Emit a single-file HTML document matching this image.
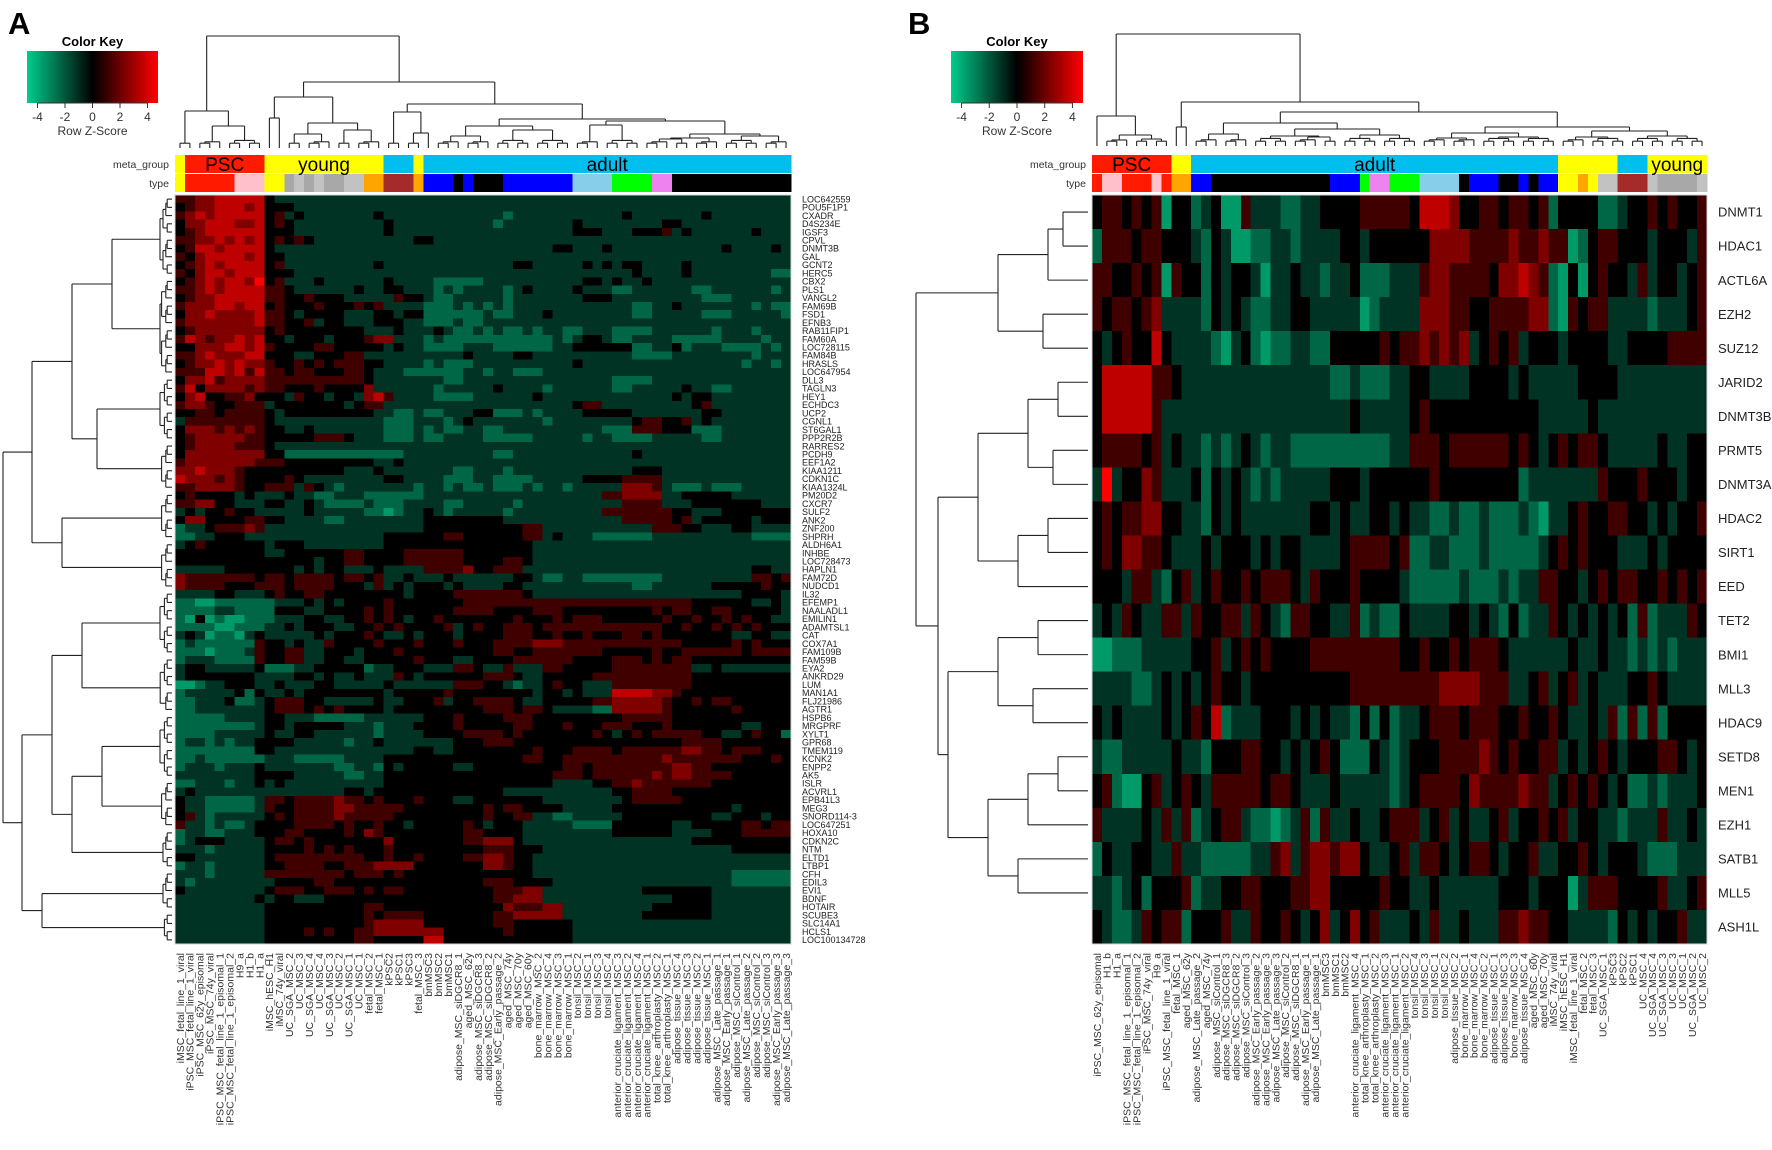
<!DOCTYPE html>
<html><head><meta charset="utf-8"><title>Heatmaps A and B</title>
<style>
html,body{margin:0;padding:0;background:#fff;}
svg{display:block;font-family:"Liberation Sans",Arial,sans-serif;}
</style></head>
<body>
<svg id="fig" width="1772" height="1150" viewBox="0 0 1772 1150" xmlns="http://www.w3.org/2000/svg">
<defs>
<linearGradient id="keygrad" x1="0" x2="1" y1="0" y2="0">
<stop offset="0" stop-color="rgb(0,205,140)"/><stop offset="0.5" stop-color="#000"/><stop offset="1" stop-color="rgb(255,0,0)"/>
</linearGradient>
</defs>
<text x="8" y="34" font-size="31" font-weight="bold">A</text>
<text x="908" y="34" font-size="31" font-weight="bold">B</text>
<g id="gA"></g>
<g id="gB"></g>
</svg>
<script>
// ---------- Panel A data ----------
const colNamesA = ["iMSC_fetal_line_1_viral","iPSC_MSC_fetal_line_1_viral","iPSC_MSC_62y_episomal","iPSC_MSC_74y_viral","iPSC_MSC_fetal_line_1_episomal_1","iPSC_MSC_fetal_line_1_episomal_2","H9_a","H1_b","H1_a","iMSC_hESC_H1","iMSC_74y_viral","UC_SGA_MSC_2","UC_MSC_3","UC_SGA_MSC_4","UC_MSC_4","UC_SGA_MSC_3","UC_MSC_2","UC_SGA_MSC_1","UC_MSC_1","fetal_MSC_2","fetal_MSC_1","kPSC2","kPSC1","kPSC3","fetal_MSC_3","bmMSC3","bmMSC2","bmMSC1","adipose_MSC_siDGCR8_1","aged_MSC_62y","adipose_MSC_siDGCR8_3","adipose_MSC_siDGCR8_2","adipose_MSC_Early_passage_2","aged_MSC_74y","aged_MSC_70y","aged_MSC_60y","bone_marrow_MSC_2","bone_marrow_MSC_4","bone_marrow_MSC_3","bone_marrow_MSC_1","tonsil_MSC_2","tonsil_MSC_1","tonsil_MSC_3","tonsil_MSC_4","anterior_cruciate_ligament_MSC_3","anterior_cruciate_ligament_MSC_2","anterior_cruciate_ligament_MSC_4","anterior_cruciate_ligament_MSC_1","total_knee_arthroplasty_MSC_2","total_knee_arthroplasty_MSC_1","adipose_tissue_MSC_4","adipose_tissue_MSC_3","adipose_tissue_MSC_2","adipose_tissue_MSC_1","adipose_MSC_Late_passage_1","adipose_MSC_Early_passage_1","adipose_MSC_siControl_1","adipose_MSC_Late_passage_2","adipose_MSC_siControl_2","adipose_MSC_siControl_3","adipose_MSC_Early_passage_3","adipose_MSC_Late_passage_3"];
const rowNamesA = ["LOC642559","POU5F1P1","CXADR","D4S234E","IGSF3","CPVL","DNMT3B","GAL","GCNT2","HERC5","CBX2","PLS1","VANGL2","FAM69B","FSD1","EFNB3","RAB11FIP1","FAM60A","LOC728115","FAM84B","HRASLS","LOC647954","DLL3","TAGLN3","HEY1","ECHDC3","UCP2","CGNL1","ST6GAL1","PPP2R2B","RARRES2","PCDH9","EEF1A2","KIAA1211","CDKN1C","KIAA1324L","PM20D2","CXCR7","SULF2","ANK2","ZNF200","SHPRH","ALDH6A1","INHBE","LOC728473","HAPLN1","FAM72D","NUDCD1","IL32","EFEMP1","NAALADL1","EMILIN1","ADAMTSL1","CAT","COX7A1","FAM109B","FAM59B","EYA2","ANKRD29","LUM","MAN1A1","FLJ21986","AGTR1","HSPB6","MRGPRF","XYLT1","GPR68","TMEM119","KCNK2","ENPP2","AK5","ISLR","ACVRL1","EPB41L3","MEG3","SNORD114-3","LOC647251","HOXA10","CDKN2C","NTM","ELTD1","LTBP1","CFH","EDIL3","EVI1","BDNF","HOTAIR","SCUBE3","SLC14A1","HCLS1","LOC100134728"];
const metaA = "yRRRRRRRRyyyyyyyyyyyyCCCyCCCCCCCCCCCCCCCCCCCCCCCCCCCCCCCCCCCCC";
const typeA = "yRRRRRPPPyyghghgghhOOWWWOUUUKUKKKUUUUUUULLLLNNNNVVKKKKKKKKKKKK";
// z-score digits: 0..8 => -4..+4
const valuesA = [
"5 56677777 4333333333333333 33333333 3333333 3333 333333 333333333333",
"4 56677767 4443333333333333 33333333 3333333 3333 333333 333333333333",
"5 67677777 4534333333343333 33333333 2333333 3333 343333 333433333333",
"4 66777667 4543333333334333 33333332 3333333 4333 333334 433333333333",
"4 56777777 4443333333334333 33333333 3333333 4443 334445 343333334333",
"5 56676767 4545433333333334 43333333 3333333 3333 333333 333333333333",
"4 57767777 4333333333333333 33333333 3333344 3334 333333 333334333343",
"5 46777767 4433333333333333 33333333 3333333 3333 333333 333333333333",
"4 56767777 4533333333343333 33333333 3443333 3434 344333 343333333333",
"5 46776777 4443333333333333 33333333 3333333 3333 334333 343333333322",
"4 56767768 4533343333334333 32222233 3333333 3443 433433 333333333333",
"5 56767777 5543333334334433 32323333 2343333 4333 223333 332233333323",
"4 56677777 5544544433333544 32233333 2333333 3444 333333 333222333333",
"5 66677677 4544454445453333 22232323 2333333 3333 332233 433333332322",
"4 66766667 5543444433344344 22222232 2333433 3333 332233 333222333332",
"5 66666667 5544534433344433 22232233 3333333 3333 333333 333333333333",
"4 56666666 4544444444333433 34322323 2232332 2333 222233 333323332333",
"5 76566767 4434443444566333 23222222 2222232 3443 223333 222223333233",
"4 46667767 5444455444443433 22223332 2222233 4444 442233 423332222323",
"5 56766677 4443344455333333 33334333 3443333 3333 332222 333333332333",
"4 56676766 5445454555443333 23222333 3333333 4333 333333 333333323323",
"5 55776757 5545544455433322 22223323 3222333 3333 333333 333333333333",
"4 66756666 5555555555433333 33223333 3333333 3333 222233 333333333333",
"5 74666656 5544454444633333 32333334 3333233 3333 223333 343322333333",
"4 67445564 4435443443675333 32222333 3334333 3333 333333 434433333333",
"5 66544555 3444444434553333 33333333 3333333 4553 333333 334533333333",
"4 45545555 4344444444433223 22333442 2232333 3444 443333 333443333333",
"3 55555555 4333333333332223 33234333 3333233 3333 334554 453433333333",
"4 66656565 4433433333332223 23223322 3333333 3332 225554 442223333333",
"4 56666655 4444455543332223 22333322 2223333 3233 222233 333223333333",
"4 56666555 4333333333333333 33333333 3333333 3333 333333 333333333333",
"4 66666666 4422222222222233 33333332 2333333 3333 334333 333333333333",
"5 66666665 5544444444433433 33333333 3333333 3333 333333 333333333333",
"6 67666544 4444444433343333 33322333 2333333 3333 334443 333333333333",
"7 66656544 4454333333334433 33222332 2223333 3444 455553 333333333333",
"5 56666544 5553543233333332 33232232 2232332 3333 366653 222322233333",
"4 54444343 3343322333222222 33333333 3333333 3335 566663 344444333333",
"5 56644333 4433432222322233 33223333 3233333 3333 355553 334444444333",
"3 43445443 3333433333221233 43233333 2333333 3335 555555 443334444444",
"4 66444455 4433332233333333 44444444 3333333 3333 355555 453444443444",
"2 33455565 3333333333333333 44444444 4455333 3333 333355 544333443333",
"2 23344433 3333333333334444 44554444 4455343 3322 222233 333333332222",
"3 45444444 3444333333334444 44444444 4443333 3333 333333 333333333333",
"4 44444444 3344444455444455 55554444 4443333 3333 333333 333333333333",
"4 44444444 4444434455444455 55554444 5543333 3333 333333 333333333333",
"3 33334444 4443434433343333 55556445 5533333 3333 333333 333333334433",
"6 55555554 5545555455453343 33433333 3443223 3222 222223 333333335545",
"6 55554445 5545555444353434 44343333 4433333 3333 332233 333344444544",
"3 33344333 4544554444444434 44455555 5543333 3333 333333 333333344443",
"2 21122222 2333434344445444 44445555 5555555 5555 555555 554444443343",
"2 22233222 2444334444545444 44455554 4445554 4444 444454 554455444443",
"2 14121122 2333443344545434 45444444 4544454 5554 444445 445445454433",
"2 22211222 3343444334454544 44534544 5554555 5555 555554 454454545444",
"3 43122134 3333343444543343 44434444 5554454 4544 455454 444444334433",
"2 32222225 4434335444454445 44454445 5556665 5555 555555 544444545444",
"2 22122235 4455334443444544 44444445 5445555 5554 444454 455555545555",
"2 33322225 4455334433444445 44433444 4555555 4444 555454 554444444444",
"3 44333334 2223344444233444 33355433 5333554 4444 555555 553343333333",
"3 44444443 3334434334333543 44444455 5433444 4455 555555 554444444444",
"1 12334443 3433344333334333 33355544 3233454 4333 555555 554444444444",
"2 33333424 3343444444443444 44544444 4443443 4333 777766 544444444444",
"2 23334223 4555443333343344 45344555 5433444 4455 666665 445455444444",
"2 23333333 4555454544443444 44444455 5455433 3322 666665 444444544444",
"2 22223333 4433322222333333 44454444 5554444 4444 455555 444444444444",
"2 22222223 4434444433323334 44454444 4554445 4445 554445 444444433444",
"2 22233333 4334433333323333 44445555 4544444 4454 345455 555443345442",
"2 33232334 4443333323343333 33344455 5444444 4444 444444 455554444444",
"2 22222224 4333333333333334 43344444 4445444 5555 455555 566554555444",
"2 23222222 3332222233334444 44444444 4455445 5555 555556 555555544454",
"2 33323334 3333333223324344 44433444 4444445 5455 555555 665544444444",
"3 33333334 4443333322334444 44444444 4444455 5455 555565 665555444444",
"2 23332334 3433333333334444 44444444 4444433 3344 556555 555544444444",
"3 43333333 3333333344344444 44444444 3333333 3333 445555 444444444444",
"4 33222223 5545555655454445 44433444 4444333 3333 345555 544444444444",
"4 33222223 5445555665555544 44444454 5544443 3333 444444 444444344444",
"4 53233333 4545555655555444 44444454 4553322 3333 344444 444433444344",
"5 33232234 4445555454454434 44445434 4433333 2222 444444 334444455455",
"2 33223334 4455444454654444 44445544 4433333 3333 444444 333344455555",
"2 34443333 4554544444446444 44445566 6433333 3333 333333 334444444444",
"3 33233333 4444545454445444 44444455 5444333 3333 333333 333333444444",
"4 43333333 4555555555445445 44445566 5443333 3333 333333 333333333333",
"2 33233333 4455554455566664 44444466 5443333 3333 333333 333333333333",
"3 33233333 5555555545554544 44444444 4443333 3333 333333 333333222222",
"3 23333333 3444455444444444 44444455 5444433 3333 333333 333333222222",
"4 33333333 4555445554545544 44444445 5566333 3333 333444 444433333333",
"3 33333334 3443334444444444 44444445 5666333 3333 333333 444433333333",
"3 33333333 4444444444554444 44444444 6555663 3333 333344 444433333333",
"3 33333333 4444444444545555 44444445 5666663 3333 333444 444433333333",
"3 33333333 4444444444566666 44444445 5444444 3333 333333 333333333333",
"3 33333333 4444545445566666 66444444 5444444 3333 333333 333333333333",
"3 33333333 4444444445544444 77444444 4444444 3333 333333 333333333333"
];
const colTreeA = [112, [37, 2, [22, 3, 4]], [66, [51, [30,1,1], [25,[14,2,3],[18,2,3]]], [44, [36, 2, [15, 2, 1]], [29, [22, [12, 3, 3], [18, 4, 4]], [27, [23, 3, 4], [14, [10, 5, 3], [12, 4, 3]]]]]]];
const rowTreeA = [169, [140, [100,[60,10,12],[75,8,6]], [110,6,6]], [150, [120,[90,8,7],[100,[70,8,6],5]], [130,5,4]]];

// ---------- Panel B data ----------
const colNamesB = ["iPSC_MSC_62y_episomal","H1_b","H1_a","iPSC_MSC_fetal_line_1_episomal_1","iPSC_MSC_fetal_line_1_episomal_2","iPSC_MSC_74y_viral","H9_a","iPSC_MSC_fetal_line_1_viral","fetal_MSC_1","aged_MSC_62y","adipose_MSC_Late_passage_2","aged_MSC_74y","adipose_MSC_siControl_1","adipose_MSC_siDGCR8_3","adipose_MSC_siDGCR8_2","adipose_MSC_siControl_3","adipose_MSC_Early_passage_2","adipose_MSC_Early_passage_3","adipose_MSC_Late_passage_3","adipose_MSC_siControl_2","adipose_MSC_siDGCR8_1","adipose_MSC_Early_passage_1","adipose_MSC_Late_passage_1","bmMSC3","bmMSC1","bmMSC2","anterior_cruciate_ligament_MSC_4","total_knee_arthroplasty_MSC_1","total_knee_arthroplasty_MSC_2","anterior_cruciate_ligament_MSC_3","anterior_cruciate_ligament_MSC_1","anterior_cruciate_ligament_MSC_2","tonsil_MSC_4","tonsil_MSC_3","tonsil_MSC_1","tonsil_MSC_2","adipose_tissue_MSC_2","bone_marrow_MSC_1","bone_marrow_MSC_4","bone_marrow_MSC_2","adipose_tissue_MSC_1","adipose_tissue_MSC_3","bone_marrow_MSC_3","adipose_tissue_MSC_4","aged_MSC_60y","aged_MSC_70y","iMSC_74y_viral","iMSC_hESC_H1","iMSC_fetal_line_1_viral","fetal_MSC_2","fetal_MSC_3","UC_SGA_MSC_1","kPSC3","kPSC2","kPSC1","UC_MSC_4","UC_SGA_MSC_4","UC_SGA_MSC_3","UC_MSC_3","UC_MSC_1","UC_SGA_MSC_2","UC_MSC_2"];
const rowNamesB = ["DNMT1","HDAC1","ACTL6A","EZH2","SUZ12","JARID2","DNMT3B","PRMT5","DNMT3A","HDAC2","SIRT1","EED","TET2","BMI1","MLL3","HDAC9","SETD8","MEN1","EZH1","SATB1","MLL5","ASH1L"];
const metaB = "RRRRRRRRyyCCCCCCCCCCCCCCCCCCCCCCCCCCCCCCCCCCCCCyyyyyyCCCyyyyyy";
const typeB = "RPPRRRPROOUUKKKKKKKKKKKKUUUNVVNNNLLLLKUUUKKUKUUyyOyhhWWWhggggh";
const valuesB = [
"4554545144 2341153332 2334444555 5547776445 5455452444 4223445454 45",
"2555455444 3243112233 2333344344 4444666655 5565565512 4554443444 35",
"5544545154 4243443133 4332334222 3335665555 4667652141 4544353443 45",
"5455456333 3243432233 4433333123 3336665544 5555662154 5533332333 45",
"4345447433 3321342122 3322444445 4556565634 5453444344 4433444455 55",
"4777775543 3333333333 3333223222 3344333344 4434333334 4443333333 33",
"4777775333 3333333333 3333334333 3345444444 4444433333 4333333333 33",
"4555545343 3232343233 2222222222 3355545555 5545434545 5433333433 44",
"3834465333 4243432323 3333444344 4444544444 4442333333 3544454443 44",
"4545566443 3243433333 3344343344 3433223223 2223213345 4455443434 45",
"4546655433 3434443434 4333345555 4522332223 2222234545 4443334344 44",
"4443553245 3454454555 4354445444 4322222322 2323355443 4545544545 45",
"3435433553 5445535432 5544335232 2433334434 3242335434 3434252333 54",
"1122233333 4453454544 4455555555 5445445455 5433333343 3433232323 33",
"3333223434 3454434444 4444445555 5555566665 5533453453 4333445433 33",
"4343333434 5472333444 3434332424 2334555455 5445445433 4352525244 44",
"3223333343 3244455443 4345422243 2344455556 5454455343 4543444554 34",
"4521145345 4355555455 4333433333 2345555465 5556553454 5434223233 34",
"5333343535 2345532212 3525334334 5553453433 4534454534 4332333533 43",
"2433443353 3222223356 3566566433 4535543455 4344533445 4344432223 33",
"3323424445 2334455444 5566444445 4433433333 3444344413 5554444533 45",
"4322354552 4445335445 4346346453 3343533433 3556554433 3324343445 33"
];
const colTreeB = [112, [30, 1, [11, [6,2,1], [7,2,2]]], [44, [19, 1, 1], [34, [23, [12, 3, 3], [17, [10, 4, 5], [11, 4, 4]]], [19, [13, [8,3,3], [9,4,4]], [15, [9,3,4], [10,4,4]]]]]];
const rowTreeB = [172, [90, [40,[25,1,1],1], [45,1,1]], [150, [110,[60,[30,1,1],[35,1,1]],[70,[40,1,1],1]], [140, [90,[50,1,1],[55,1,1]], [100,[60,[30,1,1],1],[70,1,1]]]]];

const keyTicks = [-4,-2,0,2,4];
const groupLabelsA = [["PSC",1,8],["young",9,20],["adult",25,61]];
const groupLabelsB = [["PSC",0,7],["adult",10,46],["young",56,61]];

const barColors = {y:"#FFFF00",R:"#FF1A00",P:"#FFC0CB",g:"#A8A8A8",h:"#C2C2C2",O:"#FFA500",W:"#A52A2A",U:"#0000FF",K:"#000000",L:"#87CEEB",N:"#00FF00",V:"#EE82EE",C:"#00BFEF"};

const NS = "http://www.w3.org/2000/svg";
function mk(tag, attrs, parent){ const e=document.createElementNS(NS,tag); for(const k in attrs) e.setAttribute(k,attrs[k]); parent.appendChild(e); return e; }
function zColor(z){ const t=Math.max(-1,Math.min(1,z/4)); if(t>=0) return `rgb(${Math.round(255*t)},0,0)`; const a=-t; return `rgb(0,${Math.round(205*a)},${Math.round(140*a)})`; }
function parseRows(rows){ return rows.map(s=>{ let d=s.replace(/\s/g,''); while(d.length<62) d+='4'; return d.slice(0,62).split('').map(c=>parseInt(c,10)-4); }); }
function expand(n){ if(n===1) return 1; const a=Math.ceil(n/2); return [Math.min(2+n*1.4,12), expand(a), expand(n-a)]; }

function drawDend(g, tree, pos, line){
  function rec(node, start){
    if(node===1) return {p:pos(start), h:0, n:1};
    if(typeof node==='number') return rec(expand(node), start);
    const l=rec(node[1], start), r=rec(node[2], start+l.n), h=node[0];
    line(l.p,l.h,l.p,h); line(r.p,r.h,r.p,h); line(l.p,h,r.p,h);
    return {p:(l.p+r.p)/2, h:h, n:l.n+r.n};
  }
  rec(tree,0);
}

function panel(g, cfg){
  const vals = parseRows(cfg.values);
  const nr = vals.length, nc = 62;
  const cw = (cfg.x1-cfg.x0)/nc, rh = (cfg.y1-cfg.y0)/nr;
  const key = mk('g',{},g);
  
  
  mk('rect',{x:cfg.kx0,y:51,width:cfg.kx1-cfg.kx0,height:52,fill:'url(#keygrad)'},key);
  const kt = mk('text',{x:(cfg.kx0+cfg.kx1)/2,y:46,'font-size':13,'font-weight':'bold','text-anchor':'middle'},key); kt.textContent='Color Key';
   
  const tx0 = cfg.kx0+ (cfg.kx1-cfg.kx0)*0.08, tx1 = cfg.kx1-(cfg.kx1-cfg.kx0)*0.08;
  mk('line',{x1:tx0,y1:103,x2:tx1,y2:103,stroke:'#333','stroke-width':1},key);
  keyTicks.forEach(v=>{
    const x = tx0 + (v+4)/8*(tx1-tx0);
    mk('line',{x1:x,y1:103,x2:x,y2:108,stroke:'#333','stroke-width':1},key);
    const t = mk('text',{x:x,y:121,'font-size':12,'text-anchor':'middle',fill:'#333'},key); t.textContent=String(v);
     
  });
  const zl = mk('text',{x:(cfg.kx0+cfg.kx1)/2,y:135,'font-size':12,'text-anchor':'middle',fill:'#333'},key); zl.textContent='Row Z-Score';
   

  const cd = mk('g',{stroke:'#222','stroke-width':1.1,fill:'none'},g);
   
  drawDend(cd, cfg.colTree, i=>cfg.x0+(i+0.5)*cw, (a,h1,b,h2)=>mk('line',{x1:a,y1:cfg.cbase-h1,x2:b,y2:cfg.cbase-h2},cd));
  const rd = mk('g',{stroke:'#222','stroke-width':1.1,fill:'none'},g);
   
  drawDend(rd, cfg.rowTree, i=>cfg.y0+(i+0.5)*rh, (a,h1,b,h2)=>mk('line',{x1:cfg.rbase-h1,y1:a,x2:cfg.rbase-h2,y2:b},rd));

  [[cfg.meta,155,173,'meta-group-bar'],[cfg.type,174,192,'type-bar']].forEach(([s,ya,yb,nm])=>{
    const bg = mk('g',{'shape-rendering':'crispEdges'},g);
     
    s.split('').forEach((c,i)=>{ mk('rect',{x:cfg.x0+i*cw,y:ya,width:cw+0.6,height:yb-ya,fill:barColors[c]},bg); });
  });
  const ml = mk('text',{x:cfg.x0-6,y:168,'font-size':10.5,'text-anchor':'end',fill:'#333'},g); ml.textContent='meta_group';
   
  const tl = mk('text',{x:cfg.x0-6,y:187,'font-size':10.5,'text-anchor':'end',fill:'#333'},g); tl.textContent='type';
   
  cfg.groups.forEach(([t,a,b])=>{
    const e = mk('text',{x:cfg.x0+(a+b+1)/2*cw,y:171,'font-size':19,'text-anchor':'middle',fill:'#000'},g); e.textContent=t;
     
  });

  const hm = mk('g',{'shape-rendering':'crispEdges'},g);
   
  vals.forEach((row,r)=>row.forEach((z,c)=>{
    const cell = mk('rect',{x:cfg.x0+c*cw,y:cfg.y0+r*rh,width:cw+0.6,height:rh+0.6,fill:zColor(z)},hm);
    
    
  }));
  mk('rect',{x:cfg.x0,y:cfg.y0,width:cfg.x1-cfg.x0,height:cfg.y1-cfg.y0,fill:'none',stroke:'#cfd8d6','stroke-width':1},g);

  cfg.rowNames.forEach((n,i)=>{
    const t = mk('text',{x:cfg.x1+cfg.rlOff,y:cfg.y0+(i+0.5)*rh+cfg.rlFs*0.36,'font-size':cfg.rlFs,fill:'#222'},g); t.textContent=n;
     
  });
  cfg.colNames.forEach((n,i)=>{
    const x = cfg.x0+(i+0.5)*cw+3.8, y = cfg.y1+9;
    const t = mk('text',{x:x,y:y,'font-size':10.5,'text-anchor':'end',fill:'#333',transform:`rotate(-90 ${x} ${y})`},g); t.textContent=n;
     
  });
}

panel(document.getElementById('gA'), {x0:175,x1:791,y0:195,y1:944,values:valuesA,meta:metaA,type:typeA,colTree:colTreeA,rowTree:rowTreeA,cbase:148,rbase:172,kx0:27,kx1:158,groups:groupLabelsA,rowNames:rowNamesA,colNames:colNamesA,rlOff:11,rlFs:9});
panel(document.getElementById('gB'), {x0:1092,x1:1707,y0:195,y1:944,values:valuesB,meta:metaB,type:typeB,colTree:colTreeB,rowTree:rowTreeB,cbase:146,rbase:1088,kx0:951,kx1:1083,groups:groupLabelsB,rowNames:rowNamesB,colNames:colNamesB,rlOff:11,rlFs:13});
</script>
</body></html>
